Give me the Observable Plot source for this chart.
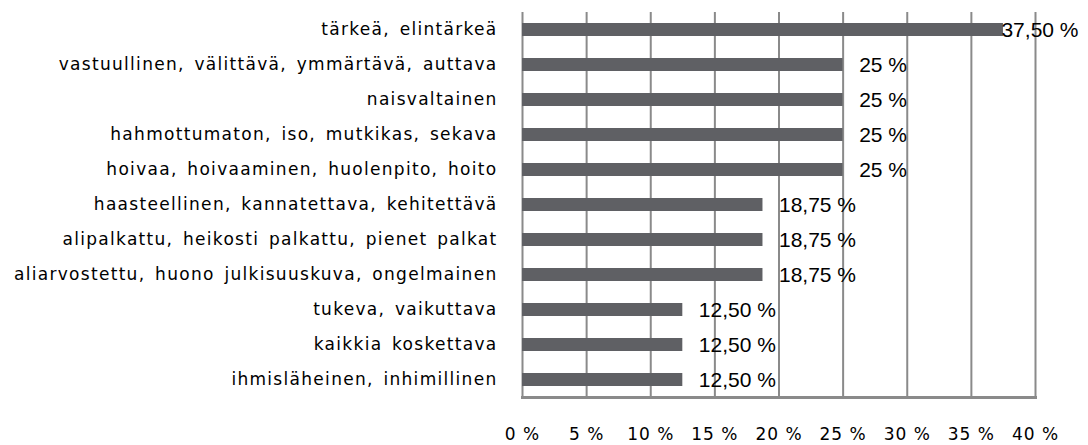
<!DOCTYPE html>
<html><head><meta charset="utf-8">
<script src="https://cdn.jsdelivr.net/npm/d3@7"></script>
<script src="https://cdn.jsdelivr.net/npm/@observablehq/plot@0.6"></script>
<style>body{margin:0;background:#fff}
.ylab text{letter-spacing:1.3px;word-spacing:3px}
.xlab text{letter-spacing:1px}
</style>
</head><body><div id="chart"></div>
<script>
const categories = [
  "tärkeä, elintärkeä",
  "vastuullinen, välittävä, ymmärtävä, auttava",
  "naisvaltainen",
  "hahmottumaton, iso, mutkikas, sekava",
  "hoivaa, hoivaaminen, huolenpito, hoito",
  "haasteellinen, kannatettava, kehitettävä",
  "alipalkattu, heikosti palkattu, pienet palkat",
  "aliarvostettu, huono julkisuuskuva, ongelmainen",
  "tukeva, vaikuttava",
  "kaikkia koskettava",
  "ihmisläheinen, inhimillinen"
];
const values = [37.5, 25, 25, 25, 25, 18.75, 18.75, 18.75, 12.5, 12.5, 12.5];
const valueLabels = ["37,50 %", "25 %", "25 %", "25 %", "25 %", "18,75 %", "18,75 %", "18,75 %", "12,50 %", "12,50 %", "12,50 %"];
const xTicks = [0, 5, 10, 15, 20, 25, 30, 35, 40];

const data = categories.map((c, i) => ({cat: c, v: values[i], label: valueLabels[i]}));
const grid = "#8a8a8a";

const chart = Plot.plot({
  width: 1088, height: 445,
  marginLeft: 522, marginRight: 53, marginTop: 12, marginBottom: 48,
  style: {fontFamily: "DejaVu Sans", background: "#fff"},
  x: {domain: [0, 40], ticks: xTicks, label: null},
  y: {domain: categories, paddingInner: 0.63, paddingOuter: 0.315, label: null},
  marks: [
    Plot.ruleX(xTicks, {stroke: grid, strokeWidth: 2}),
    Plot.frame({anchor: "bottom", stroke: grid, strokeWidth: 3}),
    Plot.barX(data, {x: "v", y: "cat", fill: "#5f6064"}),
    Plot.text(data.filter(d => d.v < 30), {x: "v", y: "cat", text: "label", textAnchor: "start", dx: 16, fontSize: 21, fontFamily: "Liberation Sans", fill: "#000"}),
    Plot.text(data.filter(d => d.v >= 30), {x: "v", y: "cat", text: "label", textAnchor: "start", dx: -2, fontSize: 21, fontFamily: "Liberation Sans", fill: "#000"}),
    Plot.axisY({tickSize: 0, tickPadding: 25, fontSize: 17, fill: "#000", label: null, className: "ylab"}),
    Plot.axisX({ticks: xTicks, tickSize: 0, tickPadding: 30, fontSize: 17, tickFormat: d => d + " %", label: null, fill: "#000", className: "xlab"})
  ]
});
document.getElementById("chart").appendChild(chart);
</script>
</body></html>
